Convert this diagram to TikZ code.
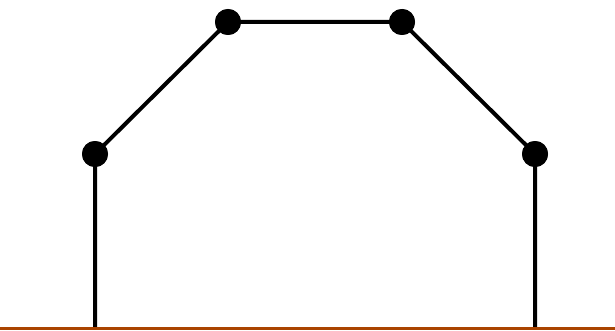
\documentclass[tikz,border=0pt]{standalone}
\definecolor{ground}{RGB}{170,68,0}
\begin{document}
\begin{tikzpicture}[x=1pt,y=1pt,
  link/.style={line width=4pt,black},
  joint/.style={circle,fill=black,inner sep=0pt,minimum size=26pt}]
\useasboundingbox (0,0) rectangle (615,330);
\coordinate (g1) at (95,2);
\coordinate (g2) at (535,2);
\node[joint] (a) at (95,176) {};
\node[joint] (b) at (228,308) {};
\node[joint] (c) at (402,308) {};
\node[joint] (d) at (535,176) {};
\draw[link] (g1) -- (a.center) -- (b.center) -- (c.center) -- (d.center) -- (g2);
\node[joint] at (a) {};
\node[joint] at (b) {};
\node[joint] at (c) {};
\node[joint] at (d) {};
\coordinate (l) at (0,1.5);
\coordinate (r) at (615,1.5);
\draw[ground,line width=2.5pt] (l) -- (r);
\end{tikzpicture}
\end{document}
